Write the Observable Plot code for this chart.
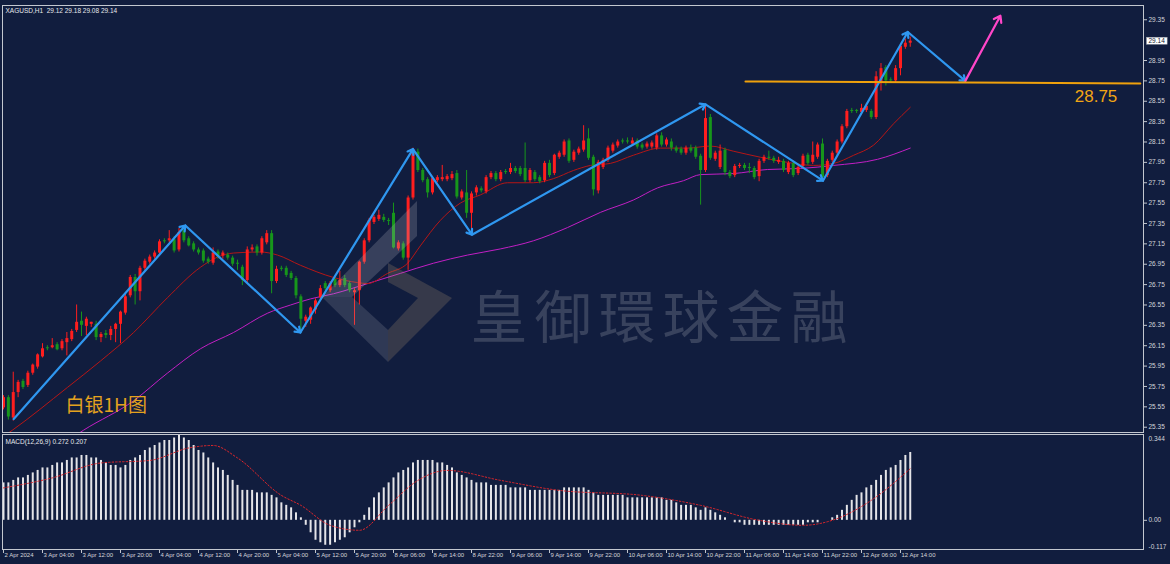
<!DOCTYPE html>
<html><head><meta charset="utf-8">
<script src="https://cdn.jsdelivr.net/npm/d3@7"></script>
<script src="https://cdn.jsdelivr.net/npm/@observablehq/plot@0.6"></script>
<style>
html,body{margin:0;padding:0;background:#111d3e;width:1170px;height:564px;overflow:hidden;}
#wrap{position:relative;width:1170px;height:564px;}
#main,#macd{position:absolute;left:0;}
#main{top:0;} #macd{top:432px;}
svg{overflow:visible;}
</style></head><body><div id="wrap"><div id="main"></div><div id="macd"></div></div>
<script>
// ---- data: hourly candles [open, high, low, close], bar index = position ----
const candles = [
[25.54,25.66,25.52,25.64],[25.64,25.66,25.42,25.45],[25.44,25.89,25.41,25.69],[25.69,25.81,25.64,25.79],[25.80,25.82,25.72,25.74],
[25.76,25.90,25.74,25.88],[25.88,25.97,25.86,25.96],[25.94,26.07,25.92,26.06],[26.04,26.17,26.03,26.12],[26.13,26.15,26.10,26.12],
[26.13,26.22,26.12,26.15],[26.16,26.18,26.10,26.11],[26.12,26.21,26.10,26.19],[26.18,26.28,26.05,26.22],[26.21,26.31,26.19,26.29],
[26.30,26.55,26.28,26.38],[26.39,26.48,26.24,26.35],[26.34,26.43,26.25,26.41],[26.36,26.38,26.33,26.38],[26.36,26.39,26.20,26.23],
[26.23,26.28,26.18,26.26],[26.27,26.30,26.22,26.25],[26.25,26.34,26.20,26.31],[26.31,26.37,26.18,26.36],[26.36,26.49,26.17,26.48],
[26.47,26.66,26.45,26.63],[26.64,26.84,26.62,26.82],[26.82,26.85,26.55,26.68],[26.68,26.93,26.59,26.91],[26.91,27.00,26.89,26.98],
[26.97,27.04,26.95,27.02],[27.02,27.08,27.00,27.06],[27.06,27.19,27.04,27.17],[27.18,27.20,27.15,27.17],[27.18,27.28,27.16,27.20],
[27.19,27.22,27.06,27.08],[27.09,27.30,27.07,27.26],[27.28,27.32,27.16,27.18],[27.20,27.22,27.12,27.13],[27.15,27.17,27.07,27.09],
[27.09,27.11,27.04,27.06],[27.08,27.10,26.96,26.98],[27.00,27.02,26.95,26.97],[26.96,27.11,26.94,27.06],[27.07,27.09,27.00,27.02],
[27.03,27.08,27.00,27.06],[27.04,27.06,26.99,27.01],[27.01,27.03,26.93,26.95],[26.96,26.99,26.89,26.95],[26.92,26.94,26.74,26.79],
[26.79,27.12,26.76,27.09],[27.09,27.14,27.07,27.11],[27.12,27.14,27.03,27.06],[27.06,27.22,27.04,27.20],[27.16,27.28,27.14,27.25],
[27.25,27.28,26.66,26.78],[26.78,26.93,26.76,26.90],[26.91,26.93,26.88,26.90],[26.91,26.93,26.82,26.84],[26.86,26.88,26.79,26.81],
[26.81,26.83,26.61,26.64],[26.63,26.65,26.27,26.41],[26.39,26.45,26.33,26.43],[26.40,26.53,26.36,26.52],[26.50,26.61,26.46,26.59],
[26.62,26.74,26.60,26.71],[26.76,26.78,26.69,26.71],[26.69,26.78,26.67,26.76],[26.80,26.82,26.72,26.74],[26.74,26.88,26.72,26.79],
[26.81,26.84,26.72,26.74],[26.76,26.78,26.67,26.69],[26.67,26.71,26.35,26.69],[26.69,26.98,26.55,26.97],[26.97,27.20,26.95,27.18],
[27.18,27.40,27.16,27.38],[27.36,27.43,27.34,27.41],[27.39,27.48,27.37,27.43],[27.41,27.44,27.36,27.38],[27.38,27.40,27.33,27.37],
[27.45,27.55,27.10,27.11],[27.10,27.18,27.08,27.16],[27.15,27.17,26.99,27.01],[27.01,27.62,26.89,27.60],[27.60,28.09,27.58,28.07],
[28.05,28.08,27.85,27.87],[27.87,27.89,27.75,27.77],[27.78,27.80,27.60,27.65],[27.65,27.80,27.63,27.79],[27.77,27.82,27.75,27.80],
[27.78,27.92,27.76,27.80],[27.78,27.83,27.76,27.81],[27.79,27.86,27.77,27.83],[27.84,27.87,27.59,27.61],[27.60,27.68,27.58,27.66],
[27.65,27.87,27.40,27.45],[27.45,27.66,27.25,27.64],[27.65,27.72,27.62,27.70],[27.69,27.71,27.65,27.67],[27.66,27.82,27.64,27.80],
[27.80,27.86,27.78,27.84],[27.84,27.86,27.76,27.78],[27.78,27.87,27.76,27.85],[27.86,27.88,27.83,27.85],[27.85,27.94,27.83,27.89],
[27.89,27.91,27.84,27.86],[27.89,27.91,27.81,27.83],[27.89,28.14,27.75,27.77],[27.77,27.89,27.75,27.87],[27.85,27.87,27.76,27.78],
[27.80,27.82,27.74,27.76],[27.77,27.96,27.75,27.94],[27.94,27.97,27.80,27.82],[27.84,28.03,27.82,28.02],[28.00,28.06,27.98,28.04],
[28.02,28.17,28.00,28.15],[28.16,28.18,27.94,27.96],[27.97,28.07,27.95,28.05],[28.04,28.10,28.02,28.08],[28.07,28.31,28.05,28.16],
[28.18,28.28,27.97,27.99],[28.00,28.02,27.62,27.68],[27.67,27.97,27.64,27.95],[27.90,27.99,27.88,27.97],[27.97,28.11,27.95,28.09],
[28.06,28.14,28.04,28.12],[28.11,28.17,28.09,28.15],[28.16,28.18,28.13,28.15],[28.16,28.19,28.13,28.15],[28.13,28.19,28.11,28.16],
[28.16,28.18,28.08,28.10],[28.12,28.14,28.07,28.09],[28.10,28.15,28.08,28.13],[28.10,28.16,28.08,28.14],[28.09,28.23,28.07,28.21],
[28.21,28.24,28.10,28.12],[28.12,28.19,28.10,28.17],[28.15,28.18,28.06,28.09],[28.09,28.11,28.04,28.06],[28.08,28.10,28.02,28.04],
[28.04,28.11,28.02,28.09],[28.09,28.12,28.04,28.06],[28.09,28.11,27.98,28.00],[28.01,28.03,27.53,27.87],[27.87,28.51,27.85,28.38],
[28.39,28.42,27.97,27.99],[27.98,28.06,27.96,28.04],[27.90,28.12,27.88,28.06],[28.07,28.09,27.82,27.85],[27.85,27.87,27.79,27.81],
[27.82,27.93,27.80,27.91],[27.91,27.94,27.89,27.92],[27.92,27.94,27.87,27.89],[27.90,27.94,27.84,27.89],[27.89,27.91,27.78,27.80],
[27.81,27.98,27.76,27.96],[27.96,28.02,27.94,28.00],[28.00,28.06,27.97,27.99],[27.99,28.01,27.94,27.96],[27.95,28.00,27.93,27.97],
[27.96,27.98,27.85,27.87],[27.85,27.96,27.83,27.94],[27.94,27.96,27.80,27.82],[27.84,27.92,27.82,27.90],[27.91,28.03,27.89,28.01],
[28.02,28.04,27.92,27.94],[27.95,28.15,27.93,28.02],[28.00,28.14,27.98,28.12],[28.13,28.18,27.77,27.80],[27.82,27.98,27.80,27.96],
[27.97,28.06,27.95,28.04],[28.04,28.17,28.02,28.15],[28.15,28.32,28.13,28.30],[28.30,28.47,28.28,28.45],[28.46,28.48,28.43,28.45],
[28.46,28.47,28.43,28.45],[28.44,28.52,28.42,28.48],[28.46,28.53,28.44,28.50],[28.45,28.47,28.37,28.39],[28.39,28.84,28.37,28.79],
[28.73,28.92,28.65,28.87],[28.88,28.90,28.70,28.75],[28.76,28.78,28.73,28.75],[28.75,28.90,28.73,28.87],[28.87,29.11,28.80,29.09],
[29.08,29.16,29.06,29.12],[29.12,29.18,29.08,29.14]
];
// moving averages read at sample bars [bar, price]
const maFast = [[0,25.26],[1.8,25.32],[13.1,25.74],[19.9,26.00],[26.7,26.28],[33.6,26.62],[40.4,26.92],[43.9,27.02],[47.2,27.06],[52.7,27.07],[56.2,27.04],[60.9,26.94],[67.7,26.82],[72.6,26.77],[74.7,26.76],[78.8,26.86],[82.9,26.96],[85.5,27.13],[89.6,27.38],[93.7,27.55],[97.8,27.63],[103.4,27.75],[108.7,27.75],[112.8,27.79],[116.9,27.87],[120.4,27.92],[124.5,27.94],[129.2,28.02],[134.8,28.09],[140.3,28.09],[145,28.11],[149.7,28.06],[155.3,28.00],[160.8,27.95],[166.2,27.92],[170.3,27.94],[174.4,28.02],[178.5,28.12],[182.6,28.33],[186,28.49]];
const maSlow = [[11.7,25.17],[16.4,25.32],[26.7,25.61],[33.6,25.88],[40.4,26.12],[47.2,26.28],[54.2,26.47],[58.9,26.55],[63,26.61],[67.7,26.66],[74.7,26.76],[81.4,26.86],[88.2,26.96],[95.2,27.04],[101.9,27.10],[108.7,27.18],[115.7,27.31],[122.5,27.46],[129.2,27.58],[134.2,27.70],[139.5,27.77],[143,27.83],[149.7,27.84],[156.7,27.88],[163.5,27.89],[170.3,27.92],[179.3,27.98],[186,28.09]];
// zigzag pivots [bar, price] and projected move
const zigzag = [[2.1,25.43],[37.3,27.33],[60.9,26.28],[84.0,28.08],[96.1,27.24],[144.0,28.52],[168.1,27.77],[185.5,29.23],[197.3,28.75]];
const projection = [[197.3,28.75],[204.5,29.39]];
const levelLine = [[152.2,28.745],[233.2,28.725]];
const levelLabel = "28.75";
const priceTicks = [25.35,25.55,25.75,25.95,26.15,26.35,26.55,26.75,26.95,27.15,27.35,27.55,27.75,27.95,28.15,28.35,28.55,28.75,28.95,29.35];
const timeTickBars = [0,8,16,24,32,40,48,56,64,72,80,88,96,104,112,120,128,136,144,152,160,168,176,184];
const timeTickLabels = ["2 Apr 2024","3 Apr 04:00","3 Apr 12:00","3 Apr 20:00","4 Apr 04:00","4 Apr 12:00","4 Apr 20:00","5 Apr 04:00","5 Apr 12:00","5 Apr 20:00","8 Apr 06:00","8 Apr 14:00","8 Apr 22:00","9 Apr 06:00","9 Apr 14:00","9 Apr 22:00","10 Apr 06:00","10 Apr 14:00","10 Apr 22:00","11 Apr 06:00","11 Apr 14:00","11 Apr 22:00","12 Apr 06:00","12 Apr 14:00"];
// MACD histogram per bar and signal line samples
const macdHist = [
0.15,0.15,0.16,0.17,0.17,0.18,0.19,0.20,0.21,0.21,
0.22,0.23,0.23,0.24,0.25,0.25,0.26,0.26,0.25,0.25,
0.24,0.23,0.22,0.22,0.21,0.22,0.24,0.25,0.26,0.28,
0.29,0.30,0.31,0.32,0.32,0.33,0.34,0.33,0.32,0.30,
0.28,0.27,0.25,0.23,0.21,0.20,0.18,0.16,0.14,0.12,
0.12,0.12,0.11,0.11,0.11,0.10,0.09,0.07,0.06,0.05,
0.03,0.01,-0.02,-0.05,-0.08,-0.09,-0.10,-0.10,-0.09,-0.08,
-0.07,-0.05,-0.03,-0.01,0.02,0.05,0.09,0.11,0.13,0.15,
0.17,0.19,0.20,0.21,0.23,0.24,0.24,0.24,0.24,0.23,
0.23,0.22,0.21,0.19,0.18,0.17,0.16,0.15,0.15,0.15,
0.14,0.14,0.14,0.14,0.13,0.13,0.13,0.13,0.12,0.12,
0.12,0.12,0.12,0.12,0.12,0.13,0.13,0.13,0.13,0.13,
0.12,0.11,0.10,0.10,0.10,0.10,0.10,0.10,0.09,0.09,
0.09,0.09,0.09,0.09,0.09,0.09,0.08,0.08,0.07,0.06,
0.06,0.06,0.05,0.04,0.05,0.04,0.03,0.02,0.01,0.00,
-0.01,-0.01,-0.02,-0.02,-0.02,-0.02,-0.02,-0.02,-0.02,-0.02,
-0.02,-0.02,-0.02,-0.02,-0.02,-0.01,-0.01,-0.01,0.00,0.00,
0.01,0.02,0.04,0.06,0.08,0.10,0.11,0.13,0.14,0.16,
0.18,0.20,0.21,0.22,0.24,0.26,0.272];
const macdSignal = [[0,0.13],[10,0.17],[20,0.23],[30,0.24],[38,0.29],[43,0.30],[48,0.25],[57,0.10],[61,0.06],[67,-0.02],[73,-0.04],[79,0.06],[85,0.16],[91,0.20],[102,0.16],[114,0.12],[131,0.10],[143,0.06],[155,0.00],[164,-0.02],[170,0.00],[178,0.08],[186,0.207]];
const macdScale = [0.344, 0, -0.117];
const headerText = "XAGUSD,H1\u00a0\u00a029.12 29.18 29.08 29.14";
const macdText = "MACD(12,26,9) 0.272 0.207";
const chartTitle = "白银1H图";
const watermark = "皇御環球金融";

const xDomain = [-0.205, 233.85];
const fontUI = "Liberation Sans, Arial, sans-serif";
const fontCJK = "Noto Sans CJK SC, sans-serif";
const frameColor = "#c3c7cf";
const up = "#ff1e1e", down = "#17961b";
const col = d => d[3] >= d[0] ? up : down;
const last = candles[candles.length-1];
const lastText = last[3].toFixed(2);

const main = Plot.plot({
  width: 1170, height: 434, marginLeft: 2, marginRight: 27, marginTop: 5, marginBottom: 2,
  style: {background: "transparent", color: "#d4d6da", fontFamily: fontUI, fontSize: "6.5px"},
  x: {domain: xDomain, axis: null},
  y: {domain: [25.298, 29.49], axis: null},
  marks: [
    Plot.line(maSlow, {x: d=>d[0], y: d=>d[1], stroke: "#c21fc4", strokeWidth: 1, curve: "monotone-x", clip: true}),
    Plot.line(maFast, {x: d=>d[0], y: d=>d[1], stroke: "#b51616", strokeWidth: 1, curve: "monotone-x", clip: true}),
    Plot.ruleX(candles, {x: (d,i)=>i, y1: d=>d[2], y2: d=>d[1], stroke: col, strokeWidth: 1}),
    Plot.ruleX(candles, {x: (d,i)=>i, y1: d=>d[0], y2: d=>d[3], stroke: col, strokeWidth: 3}),
    Plot.arrow(d3.pairs(zigzag), {x1: d=>d[0][0], y1: d=>d[0][1], x2: d=>d[1][0], y2: d=>d[1][1], stroke: "#2f97f0", strokeWidth: 2.2, headLength: 4, headAngle: 70}),
    Plot.arrow([projection], {x1: d=>d[0][0], y1: d=>d[0][1], x2: d=>d[1][0], y2: d=>d[1][1], stroke: "#ff46c8", strokeWidth: 2.2, headLength: 5, headAngle: 70}),
    Plot.line(levelLine, {x: d=>d[0], y: d=>d[1], stroke: "#f0a10c", strokeWidth: 2}),
    Plot.text([levelLabel], {x: levelLine[1][0], y: levelLine[1][1], dx: -23, dy: 13, textAnchor: "end", fill: "#f2a614", fontSize: 17, fontFamily: fontUI}),
    Plot.text([chartTitle], {frameAnchor: "bottom-left", dx: 63, dy: -21, textAnchor: "start", fill: "#e4a21e", fontSize: 19, fontFamily: fontCJK}),
    Plot.text([watermark], {frameAnchor: "top-left", dx: 468, dy: 292, textAnchor: "start", fill: "rgba(150,152,165,0.30)", fontSize: 57, fontFamily: fontCJK}),
    Plot.text([headerText], {frameAnchor: "top-left", dx: 3, dy: 3, textAnchor: "start", fill: "#e6e8ec"}),
    Plot.frame({stroke: frameColor}),
    Plot.axisY({anchor: "right", ticks: priceTicks, tickSize: 3, tickPadding: 2, tickFormat: d => d.toFixed(2), stroke: frameColor}),
    Plot.text([last], {y: d=>d[3], frameAnchor: "right", dx: 5, textAnchor: "start", text: d=>d[3].toFixed(2), fill: "#10182e"})
  ]
});
document.getElementById("main").appendChild(main);

// white box behind current price label, logo watermark
(function(){
  const svg = d3.select(main);
  svg.selectAll("text").filter(function(){return this.textContent === lastText;}).each(function(){
    const b = this.getBBox();
    const t = this.getAttribute("transform");
    d3.select(this.parentNode).insert("rect", () => this).attr("transform", t).attr("x", b.x-2).attr("y", b.y).attr("width", b.width+4).attr("height", b.height).attr("fill", "#ffffff").attr("stroke","#9aa0aa").attr("stroke-width",0.5);
  });
  svg.selectAll("text").filter(function(){return this.textContent === watermark;}).style("letter-spacing", "7px");
  const logo = svg.append("g").attr("aria-label","logo");
  logo.append("path").attr("d","M417,201 L322,297 L352,297 L417,236 Z").attr("fill","rgba(190,192,200,0.22)");
  logo.append("path").attr("d","M322,297 L388,362 L388,330 L352,297 Z").attr("fill","rgba(170,172,182,0.20)");
  logo.append("path").attr("d","M388,263 L452,298 L388,362 L388,330 L418,298 L388,282 Z").attr("fill","rgba(185,160,120,0.22)");
})();

const macd = Plot.plot({
  width: 1170, height: 132, marginLeft: 2, marginRight: 27, marginTop: 2, marginBottom: 15,
  style: {background: "transparent", color: "#d4d6da", fontFamily: fontUI, fontSize: "6px"},
  x: {domain: xDomain, axis: null},
  y: {domain: [-0.117, 0.344], axis: null},
  marks: [
    Plot.ruleX(macdHist, {x: (d,i)=>i, y1: 0, y2: d=>d, stroke: "#e4e4e8", strokeWidth: 2}),
    Plot.line(macdSignal, {x: d=>d[0], y: d=>d[1], stroke: "#e0262b", strokeWidth: 1, strokeDasharray: "1.5,2", curve: "monotone-x"}),
    Plot.frame({stroke: frameColor}),
    Plot.axisX({ticks: timeTickBars, tickSize: 4, tickFormat: () => "", stroke: frameColor}),
    Plot.text(timeTickBars, {x: d=>d, text: (d,i)=>timeTickLabels[i], frameAnchor: "bottom", dy: 7, dx: 1, textAnchor: "start", fill: "#d4d6da"}),
    Plot.axisY({anchor: "right", ticks: [0], tickSize: 3, tickFormat: () => "", stroke: frameColor}),
    Plot.text(macdScale, {y: d=>d, frameAnchor: "right", dx: 5, textAnchor: "start", text: d => d === 0 ? "0.00" : String(d), fill: "#d4d6da", fontSize: 6.5}),
    Plot.text([macdText], {frameAnchor: "top-left", dx: 3, dy: 5, textAnchor: "start", fill: "#e6e8ec", fontSize: 6.5})
  ]
});
document.getElementById("macd").appendChild(macd);
// nudge the extreme scale labels inside the panel
(function(){
  d3.select(macd).selectAll("text").filter(function(){return this.textContent === "0.344";}).attr("transform", function(){return (this.getAttribute("transform")||"") + " translate(0,4)";});
  d3.select(macd).selectAll("text").filter(function(){return this.textContent === "-0.117";}).attr("transform", function(){return (this.getAttribute("transform")||"") + " translate(0,-3)";});
})();
</script></body></html>
